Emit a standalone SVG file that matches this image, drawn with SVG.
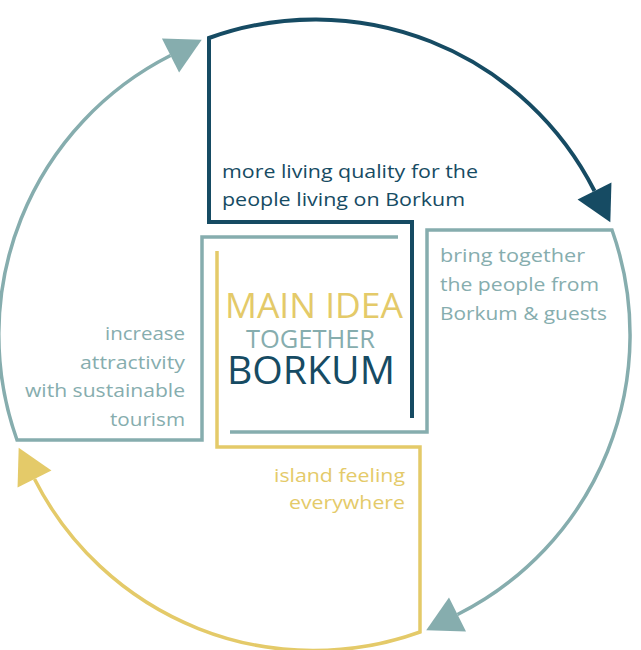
<svg xmlns="http://www.w3.org/2000/svg" width="641" height="650" viewBox="0 0 641 650">
  <style>
    .line { fill: none; stroke-linejoin: miter; stroke-linecap: butt; }
    .dark { stroke: #164b63; stroke-width: 4; }
    .teal { stroke: #86adae; stroke-width: 3.5; }
    .gold { stroke: #e4ca69; stroke-width: 3.5; }
    text { font-family: "Open Sans", "Noto Sans", "Liberation Sans", sans-serif; }
    .body { font-size: 18.5px; }
    .t-dark { fill: #164b63; }
    .t-teal { fill: #86adae; }
    .t-gold { fill: #e4ca69; }
  </style>
  <defs>
    <marker id="head-dark" markerUnits="userSpaceOnUse" markerWidth="36" markerHeight="40" viewBox="0 0 36 40" refX="0" refY="20" orient="auto" overflow="visible">
      <path d="M0,1 L35,20 L0,39 Z" fill="#164b63"/>
    </marker>
    <marker id="head-teal" markerUnits="userSpaceOnUse" markerWidth="36" markerHeight="40" viewBox="0 0 36 40" refX="0" refY="20" orient="auto" overflow="visible">
      <path d="M0,1 L35,20 L0,39 Z" fill="#86adae"/>
    </marker>
    <marker id="head-gold" markerUnits="userSpaceOnUse" markerWidth="36" markerHeight="40" viewBox="0 0 36 40" refX="0" refY="20" orient="auto" overflow="visible">
      <path d="M0,1 L35,20 L0,39 Z" fill="#e4ca69"/>
    </marker>
  </defs>

  <rect width="641" height="650" fill="#ffffff"/>

  <!-- Frames that turn into the quarter arcs of the cycle -->
  <g id="connectors">
    <path class="line dark" d="M412,418 V222 H209 V38 A313,313 0 0 1 594.5,191" marker-end="url(#head-dark)"/>
    <path class="line teal" d="M230,432 H427 V230 H612 A313,313 0 0 1 457.5,614.5" marker-end="url(#head-teal)"/>
    <path class="line gold" d="M217,251 V447 H420 V632 A313,313 0 0 1 34.5,479" marker-end="url(#head-gold)"/>
    <path class="line teal" d="M398,237 H202 V440 H17 A313,313 0 0 1 170.5,55.5" marker-end="url(#head-teal)"/>
  </g>

  <g id="main-idea">
    <text x="225" y="318" font-size="35" class="t-gold" textLength="178" lengthAdjust="spacingAndGlyphs">MAIN IDEA</text>
    <text x="246" y="348" font-size="25" class="t-teal" textLength="129" lengthAdjust="spacingAndGlyphs">TOGETHER</text>
    <text x="227" y="384" font-size="38" class="t-dark" textLength="168" lengthAdjust="spacingAndGlyphs">BORKUM</text>
  </g>

  <g id="living-quality" class="body t-dark">
    <text x="222" y="178" textLength="256" lengthAdjust="spacingAndGlyphs">more living quality for the</text>
    <text x="222" y="206" textLength="243" lengthAdjust="spacingAndGlyphs">people living on Borkum</text>
  </g>

  <g id="bring-together" class="body t-teal">
    <text x="440" y="262" textLength="145" lengthAdjust="spacingAndGlyphs">bring together</text>
    <text x="440" y="291" textLength="159" lengthAdjust="spacingAndGlyphs">the people from</text>
    <text x="440" y="320" textLength="167" lengthAdjust="spacingAndGlyphs">Borkum &amp; guests</text>
  </g>

  <g id="island-feeling" class="body t-gold">
    <text x="274" y="482" textLength="131" lengthAdjust="spacingAndGlyphs">island feeling</text>
    <text x="289" y="509" textLength="116" lengthAdjust="spacingAndGlyphs">everywhere</text>
  </g>

  <g id="attractivity" class="body t-teal">
    <text x="105" y="340" textLength="80" lengthAdjust="spacingAndGlyphs">increase</text>
    <text x="80" y="369" textLength="105" lengthAdjust="spacingAndGlyphs">attractivity</text>
    <text x="25" y="397" textLength="160" lengthAdjust="spacingAndGlyphs">with sustainable</text>
    <text x="110" y="426" textLength="75" lengthAdjust="spacingAndGlyphs">tourism</text>
  </g>
</svg>
